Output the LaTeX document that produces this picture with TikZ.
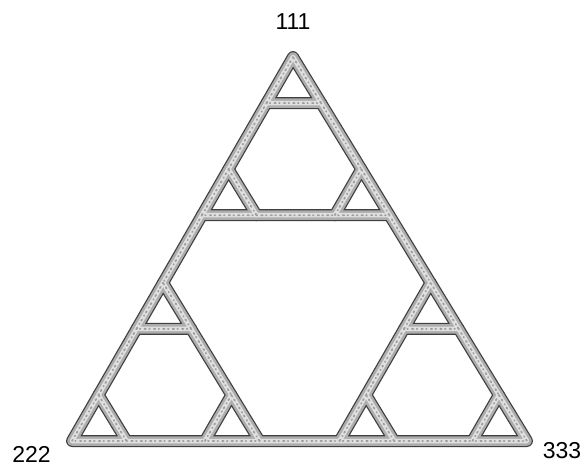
\documentclass[tikz,border=0pt]{standalone}
\usepackage{fontspec}
\setmainfont{Liberation Sans}
\begin{document}
\begin{tikzpicture}[
  tubeedge/.style={draw=black!75,line width=12pt,line cap=round,line join=round},
  tubebody/.style={draw=black!32,line width=9.5pt,line cap=round,line join=round},
  tubelight/.style={draw=black!12,line width=4.5pt,line cap=round,line join=round},
  tubespeck/.style={draw=black!38,line width=1.8pt,line cap=round,dash pattern=on 0.6pt off 4.1pt on 1.4pt off 3.3pt},
  vlabel/.style={inner sep=0pt,font=\fontsize{23}{28}\selectfont}
]
\useasboundingbox (0pt,0pt) rectangle (585pt,467pt);
\pgfmathsetmacro\Ls{0.412}
\pgfmathsetmacro\Ss{0.12}
\begin{scope}[shift={(72pt,26pt)},x={(455pt,0pt)},y={(221pt,384pt)}]
\foreach \i in {1,2,3}{\foreach \j in {1,2,3}{\foreach \k in {1,2,3}{
  \pgfmathsetmacro\px{(1-\Ls)*{0,0,1}[\i-1]+(\Ls-\Ss)*{0,0,1}[\j-1]+\Ss*{0,0,1}[\k-1]}
  \pgfmathsetmacro\py{(1-\Ls)*{1,0,0}[\i-1]+(\Ls-\Ss)*{1,0,0}[\j-1]+\Ss*{1,0,0}[\k-1]}
  \coordinate (v\i\j\k) at (\px,\py);
}}}
\end{scope}
\newcommand\hanoiedges[1]{%
  \foreach \i in {1,2,3}{%
    \foreach \j in {1,2,3}{\draw[#1] (v\i\j1) -- (v\i\j2) -- (v\i\j3) -- cycle;}
    \draw[#1] (v\i12) -- (v\i21) (v\i13) -- (v\i31) (v\i23) -- (v\i32);
  }
  \draw[#1] (v122) -- (v211) (v133) -- (v311) (v233) -- (v322);
}
\hanoiedges{tubeedge}
\hanoiedges{tubebody}
\hanoiedges{tubelight}
\hanoiedges{tubespeck}
\node[vlabel] (l111) at (293pt,445pt) {111};
\node[vlabel] (l222) at (31.5pt,12.5pt) {222};
\node[vlabel] (l333) at (562pt,16pt) {333};
\end{tikzpicture}
\end{document}
